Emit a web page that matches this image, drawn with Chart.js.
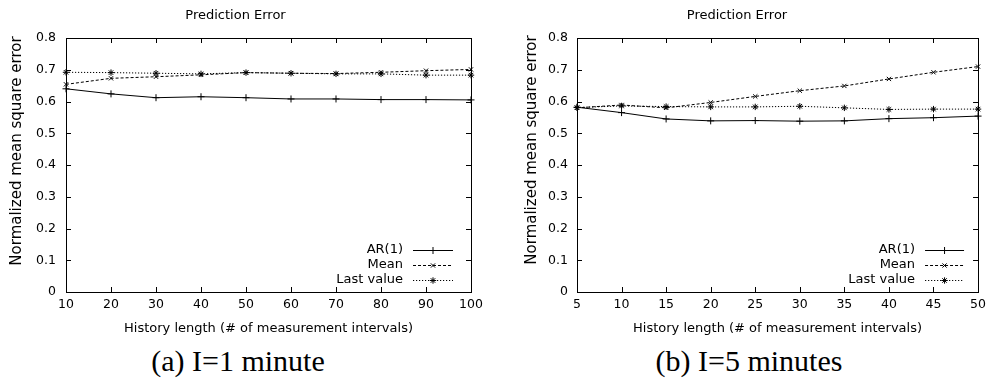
<!DOCTYPE html>
<html><head><meta charset="utf-8">
<script src="https://cdn.jsdelivr.net/npm/chart.js@4"></script>
<style>
html,body{margin:0;padding:0;background:#fff;width:991px;height:381px;overflow:hidden;position:relative;}
canvas{position:absolute;top:0;}
#c1{left:0}
#c2{left:495px}
.cap{position:absolute;top:346px;font-family:"Liberation Serif","Times New Roman",serif;font-size:30px;line-height:30px;white-space:nowrap;transform:translateX(-50%);color:#000}
</style></head><body>
<canvas id="c1" width="495" height="340"></canvas>
<canvas id="c2" width="496" height="340"></canvas>
<div class="cap" style="left:238px">(a) I=1 minute</div>
<div class="cap" style="left:749px">(b) I=5 minutes</div>
<script>
// ---- data ----
const seriesLabels = ['AR(1)', 'Mean', 'Last value'];
const chartTitle = 'Prediction Error';
const xAxisTitle = 'History length (# of measurement intervals)';
const yAxisTitle = 'Normalized mean square error';

const historyA = [10, 20, 30, 40, 50, 60, 70, 80, 90, 100];
const arA   = [0.640, 0.624, 0.612, 0.615, 0.612, 0.608, 0.608, 0.606, 0.606, 0.605];
const meanA = [0.654, 0.673, 0.678, 0.684, 0.691, 0.689, 0.688, 0.692, 0.697, 0.701];
const lastA = [0.692, 0.691, 0.689, 0.687, 0.691, 0.689, 0.687, 0.687, 0.683, 0.683];

const historyB = [5, 10, 15, 20, 25, 30, 35, 40, 45, 50];
const arB   = [0.582, 0.565, 0.545, 0.539, 0.540, 0.538, 0.539, 0.546, 0.549, 0.554];
const meanB = [0.580, 0.589, 0.580, 0.597, 0.616, 0.634, 0.649, 0.671, 0.692, 0.710];
const lastB = [0.581, 0.586, 0.584, 0.583, 0.583, 0.585, 0.580, 0.575, 0.576, 0.576];

const xTicksA = [10, 20, 30, 40, 50, 60, 70, 80, 90, 100];
const xTicksB = [5, 10, 15, 20, 25, 30, 35, 40, 45, 50];
const yTicks  = [0, 0.1, 0.2, 0.3, 0.4, 0.5, 0.6, 0.7, 0.8];

// ---- styles ----
const seriesStyles = [
  { borderDash: [], pointStyle: 'cross', pointRadius: 3.5 },
  { borderDash: [3, 2], pointStyle: 'crossRot', pointRadius: 3 },
  { borderDash: [1.2, 1.8], pointStyle: 'star', pointRadius: 3.2 }
];

Chart.defaults.font.family = '"DejaVu Sans", "Liberation Sans", sans-serif';
Chart.defaults.color = '#000';

const framePlugin = {
  id: 'frame',
  afterDraw(chart, args, o) {
    const { ctx, chartArea: a, scales: { x, y } } = chart;
    ctx.save();
    ctx.strokeStyle = '#000';
    ctx.fillStyle = '#000';
    ctx.lineWidth = 1;
    ctx.setLineDash([]);
    ctx.strokeRect(Math.round(a.left) + 0.5, Math.round(a.top) + 0.5,
      Math.round(a.right) - Math.round(a.left), Math.round(a.bottom) - Math.round(a.top));
    const T = 5;
    ctx.beginPath();
    x.ticks.forEach(t => {
      const px = Math.round(x.getPixelForValue(t.value)) + 0.5;
      ctx.moveTo(px, a.bottom); ctx.lineTo(px, a.bottom - T);
      ctx.moveTo(px, a.top); ctx.lineTo(px, a.top + T);
    });
    y.ticks.forEach(t => {
      const py = Math.round(y.getPixelForValue(t.value)) + 0.5;
      ctx.moveTo(a.left, py); ctx.lineTo(a.left + T, py);
      ctx.moveTo(a.right, py); ctx.lineTo(a.right - T, py);
    });
    ctx.stroke();

    // axis titles
    ctx.font = '13px "DejaVu Sans"';
    ctx.textAlign = 'center';
    ctx.textBaseline = 'middle';
    ctx.fillText(xAxisTitle, (a.left + a.right) / 2, o.xTitleY);
    ctx.save();
    ctx.translate(o.yTitleX, o.yTitleY);
    ctx.rotate(-Math.PI / 2);
    ctx.font = '15px "DejaVu Sans"';
    ctx.fillText(yAxisTitle, 0, 0);
    ctx.restore();

    // legend (gnuplot style, bottom-right inside)
    ctx.font = '13px "DejaVu Sans"';
    ctx.textAlign = 'right';
    chart.data.datasets.forEach((ds, i) => {
      const yy = a.bottom - 42 + i * 15;
      ctx.fillText(ds.label, a.right - o.textOff, yy);
      const x0 = a.right - o.lineStart, x1 = a.right - o.lineEnd;
      ctx.setLineDash(ds.borderDash || []);
      ctx.beginPath();
      ctx.moveTo(x0, yy + 0.5); ctx.lineTo(x1, yy + 0.5);
      ctx.stroke();
      ctx.setLineDash([]);
      Chart.helpers.drawPoint(ctx, { pointStyle: ds.pointStyle, radius: ds.pointRadius, rotation: 0, borderWidth: 1 }, (x0 + x1) / 2, yy + 0.5);
    });
    ctx.restore();
  }
};

function makeDatasets(xs, series) {
  return series.map((vals, i) => ({
    label: seriesLabels[i],
    data: xs.map((xv, j) => ({ x: xv, y: vals[j] })),
    borderColor: '#000',
    backgroundColor: '#000',
    borderWidth: 1,
    borderDash: seriesStyles[i].borderDash,
    pointStyle: seriesStyles[i].pointStyle,
    pointRadius: seriesStyles[i].pointRadius,
    pointBorderWidth: 1,
    pointBorderColor: '#000',
    pointBackgroundColor: '#000',
    tension: 0,
    clip: false
  }));
}

function makeChart(id, xs, series, xTicks, cfg) {
  return new Chart(document.getElementById(id), {
    type: 'line',
    data: { datasets: makeDatasets(xs, series) },
    plugins: [framePlugin],
    options: {
      responsive: false,
      animation: false,
      events: [],
      layout: { padding: { left: 0, right: cfg.padRight, top: 0, bottom: 0 } },
      plugins: {
        legend: { display: false },
        tooltip: { enabled: false },
        title: {
          display: true, text: chartTitle, color: '#000',
          font: { size: 13, weight: 'normal' },
          padding: { top: 8, bottom: 14.4 }
        },
        frame: cfg.frame
      },
      scales: {
        x: {
          type: 'linear',
          min: xTicks[0], max: xTicks[xTicks.length - 1],
          afterBuildTicks: s => { s.ticks = xTicks.map(v => ({ value: v })); },
          afterFit: s => { s.height = 48; },
          grid: { display: false, drawTicks: false },
          border: { display: false },
          ticks: { color: '#000', font: { size: 12.5 }, padding: 5, maxRotation: 0, autoSkip: false }
        },
        y: {
          type: 'linear',
          min: 0, max: 0.8,
          afterBuildTicks: s => { s.ticks = yTicks.map(v => ({ value: v })); },
          afterFit: s => { s.width = cfg.yWidth; },
          grid: { display: false, drawTicks: false },
          border: { display: false },
          ticks: { color: '#000', font: { size: 12.5 }, padding: cfg.yPad, autoSkip: false,
                   callback: v => String(v) }
        }
      }
    }
  });
}

makeChart('c1', historyA, [arA, meanA, lastA], xTicksA, {
  padRight: 24, yWidth: 66, yPad: 10,
  frame: { xTitleY: 329, yTitleX: 17, yTitleY: 151, textOff: 68, lineStart: 58, lineEnd: 18 }
});
makeChart('c2', historyB, [arB, meanB, lastB], xTicksB, {
  padRight: 12, yWidth: 82, yPad: 9,
  frame: { xTitleY: 329, yTitleX: 37.5, yTitleY: 150, textOff: 63, lineStart: 53, lineEnd: 14 }
});
</script>
</body></html>
